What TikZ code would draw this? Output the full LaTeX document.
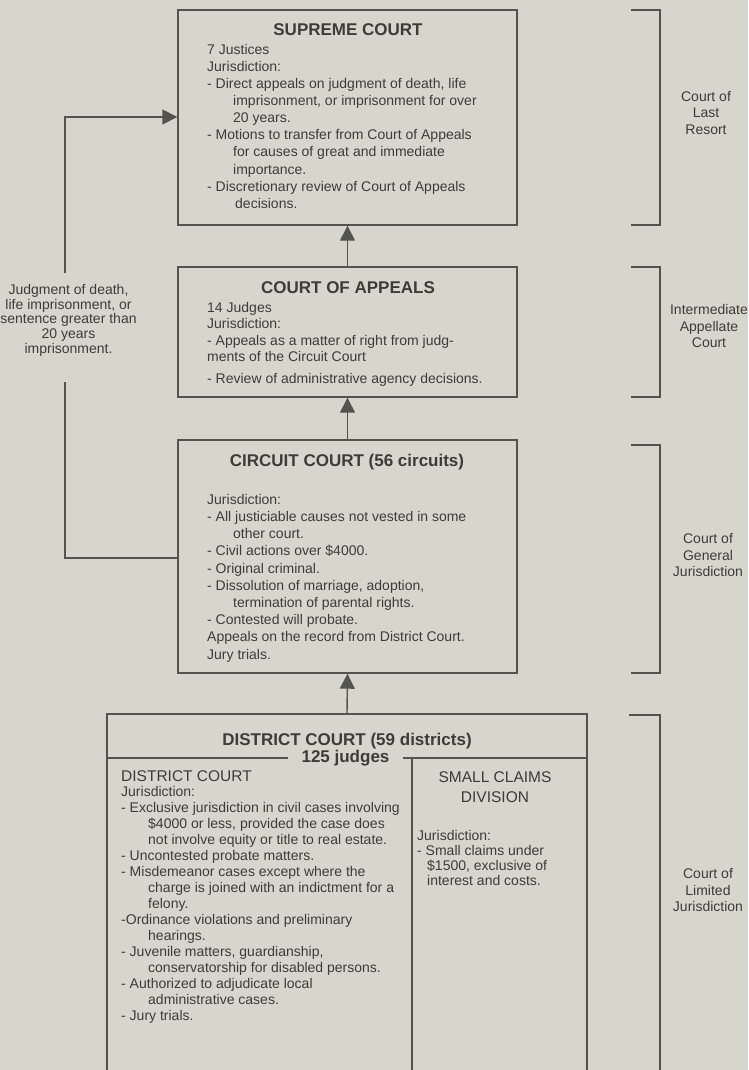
\documentclass[tikz,border=0pt]{standalone}
\usepackage{fontspec}
\setmainfont{Liberation Sans}
\usetikzlibrary{arrows.meta}
\definecolor{paper}{RGB}{215,214,205}
\definecolor{ink}{RGB}{60,60,56}
\definecolor{rulec}{RGB}{84,84,78}
\begin{document}
\begin{tikzpicture}[x=1pt,y=-1pt,
  box/.style={draw=rulec, line width=1.4pt, rectangle, inner sep=0pt},
  txt/.style={text=ink, align=left, inner sep=0pt, anchor=north west},
  ttl/.style={text=ink, font=\fontsize{17}{20}\selectfont\bfseries, inner sep=0pt, anchor=base},
  sub/.style={text=ink, font=\fontsize{15.5}{20}\selectfont, inner sep=0pt},
  lbl/.style={text=ink, align=center, inner sep=0pt, font=\fontsize{14}{16.5}\selectfont},
  link/.style={draw=rulec, line width=1.4pt},
  arr/.style={link, -{Triangle[width=15pt,length=15pt]}},
  brk/.style={draw=rulec, line width=1.4pt}
]
\fill[paper] (0,0) rectangle (748,1070);
\clip (0,0) rectangle (748,1070);

% boxes
\node[box, minimum width=339pt, minimum height=215pt] (sc) at (347.5,117.5) {};
\node[box, minimum width=339pt, minimum height=130pt] (ca) at (347.5,332) {};
\node[box, minimum width=339pt, minimum height=233pt] (cc) at (347.5,556.5) {};
\node[box, minimum width=480pt, minimum height=380pt] (dc) at (347,904) {};

% titles
\node[ttl] (sctitle) at (348,36) {SUPREME COURT};
\node[ttl] (catitle) at (348,293) {COURT OF APPEALS};
\node[ttl] (cctitle) at (347,466) {CIRCUIT COURT (56 circuits)};
\node[ttl] (dctitle) at (347,745) {DISTRICT COURT (59 districts)};
\node[text=ink, font=\fontsize{17}{20}\selectfont\bfseries, inner ysep=0pt, inner xsep=13pt] (j125) at (345.5,758) {125 judges};

% inner divisions of district court
\draw[link] (dc.west |- j125) -- (j125.west);
\draw[link] (j125.east) -- (dc.east |- j125);
\draw[link] (412,758) -- (412,1094);

% box texts
\node[txt, font=\fontsize{14}{17.1}\selectfont] (sctext) at (207,44) {7 Justices\\
Jurisdiction:\\
- Direct appeals on judgment of death, life\\
\hspace*{26pt}imprisonment, or imprisonment for over\\
\hspace*{26pt}20 years.\\
- Motions to transfer from Court of Appeals\\
\hspace*{26pt}for causes of great and immediate\\
\hspace*{26pt}importance.\\
- Discretionary review of Court of Appeals\\
\hspace*{28pt}decisions.};

\node[txt, font=\fontsize{14}{16.5}\selectfont] (catext) at (207,302) {14 Judges\\
Jurisdiction:\\
- Appeals as a matter of right from judg-\\
ments of the Circuit Court\\[5pt]
- Review of administrative agency decisions.};

\node[txt, font=\fontsize{14}{17.2}\selectfont] (cctext) at (207,494) {Jurisdiction:\\
- All justiciable causes not vested in some\\
\hspace*{26pt}other court.\\
- Civil actions over \$4000.\\
- Original criminal.\\
- Dissolution of marriage, adoption,\\
\hspace*{26pt}termination of parental rights.\\
- Contested will probate.\\
Appeals on the record from District Court.\\
Jury trials.};

\node[sub, anchor=base west] (dcsub) at (121,781) {DISTRICT COURT};
\node[txt, font=\fontsize{14}{16.0}\selectfont] (dctext) at (121,786) {Jurisdiction:\\
- Exclusive jurisdiction in civil cases involving\\
\hspace*{27pt}\$4000 or less, provided the case does\\
\hspace*{27pt}not involve equity or title to real estate.\\
- Uncontested probate matters.\\
- Misdemeanor cases except where the\\
\hspace*{27pt}charge is joined with an indictment for a\\
\hspace*{27pt}felony.\\
-Ordinance violations and preliminary\\
\hspace*{27pt}hearings.\\
- Juvenile matters, guardianship,\\
\hspace*{27pt}conservatorship for disabled persons.\\
- Authorized to adjudicate local\\
\hspace*{27pt}administrative cases.\\
- Jury trials.};

\node[sub, align=center, anchor=base, font=\fontsize{15.5}{20}\selectfont] (scsub) at (495,802) {SMALL CLAIMS\\DIVISION};
\node[txt, font=\fontsize{14}{15}\selectfont] (sctxt) at (417,830) {Jurisdiction:\\
- Small claims under\\
\hspace*{10pt}\$1500, exclusive of\\
\hspace*{10pt}interest and costs.};

% arrows between courts
\draw[arr] (ca.north) -- (sc.south);
\draw[arr] (cc.north) -- (ca.south);
\draw[arr] (dc.north) -- (cc.south);

% bypass path with label
\node[lbl, anchor=north, font=\fontsize{14}{14.75}\selectfont] (bypass) at (68.5,284) {Judgment of death,\\
life imprisonment, or\\
sentence greater than\\
20 years\\
imprisonment.};
\coordinate (lb) at (65,558);
\coordinate (lt) at (65,117);
\coordinate (g1) at (65,273);
\coordinate (g2) at (65,382);
\draw[link] (cc.west |- lb) -- (lb) -- (g2);
\draw[arr] (g1) -- (lt) -- (sc.west |- lt);

% brackets on the right
\draw[brk] (631,10) -- (660,10) -- (660,225) -- (631,225);
\draw[brk] (631,267) -- (660,267) -- (660,397) -- (631,397);
\draw[brk] (631,445) -- (660,445) -- (660,673) -- (631,673);
\draw[brk] (629,715) -- (660,715) -- (660,1090);

\node[lbl] (lastres) at (706,113) {Court of\\Last\\Resort};
\node[lbl] (interm) at (709,326) {Intermediate\\Appellate\\Court};
\node[lbl] (general) at (708,555) {Court of\\General\\Jurisdiction};
\node[lbl] (limited) at (708,890) {Court of\\Limited\\Jurisdiction};
\end{tikzpicture}
\end{document}
